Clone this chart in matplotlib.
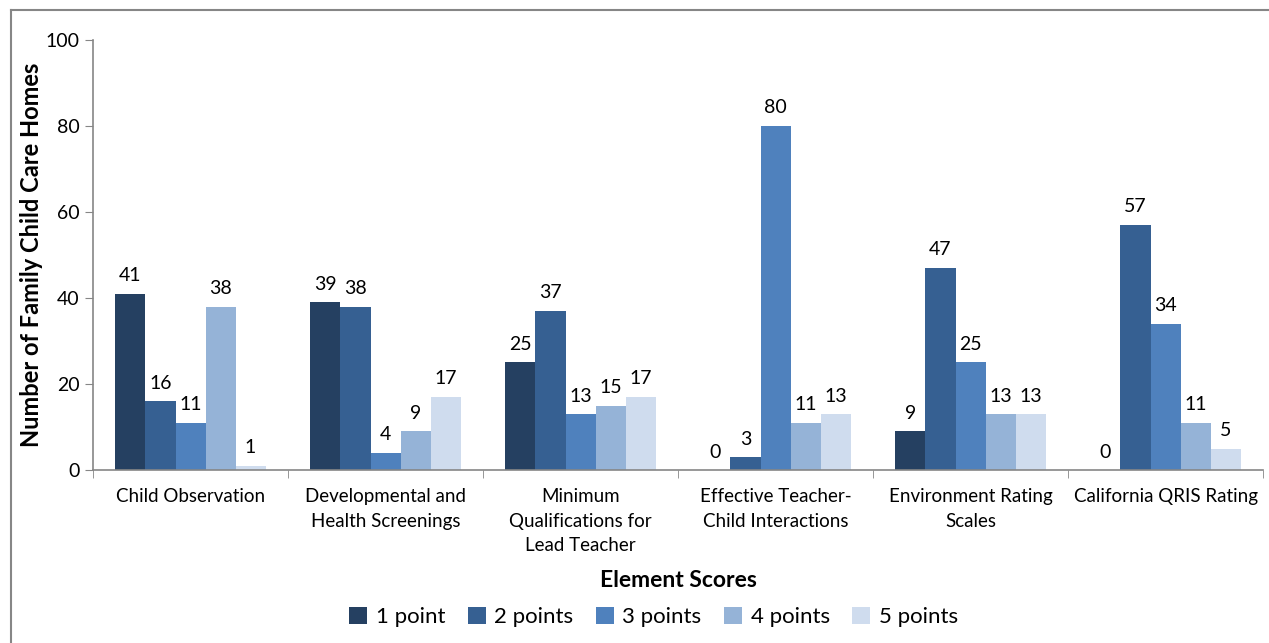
import matplotlib.pyplot as plt
import numpy as np
from matplotlib.lines import Line2D

plt.rcParams["font.family"] = ["Lato", "DejaVu Sans"]

categories = [
    "Child Observation",
    "Developmental and\nHealth Screenings",
    "Minimum\nQualifications for\nLead Teacher",
    "Effective Teacher-\nChild Interactions",
    "Environment Rating\nScales",
    "California QRIS Rating",
]
series_names = ["1 point", "2 points", "3 points", "4 points", "5 points"]
one_point = [41, 39, 25, 0, 9, 0]
two_points = [16, 38, 37, 3, 47, 57]
three_points = [11, 4, 13, 80, 25, 34]
four_points = [38, 9, 15, 11, 13, 11]
five_points = [1, 17, 17, 13, 13, 5]
colors = ["#254061", "#366092", "#4F81BD", "#95B3D7", "#CFDCEE"]

series = [one_point, two_points, three_points, four_points, five_points]

fig = plt.figure(figsize=(12.69, 6.43), dpi=100)
ax = fig.add_axes([0.0733, 0.269, 0.922, 0.669])

x = np.arange(len(categories))
w = 0.154
for i, (vals, name, c) in enumerate(zip(series, series_names, colors)):
    pos = x + (i - 2) * w
    ax.bar(pos, vals, width=w, color=c, label=name)
    for p, v in zip(pos, vals):
        ax.text(p, v + 2.2, str(v), ha="center", va="bottom", fontsize=14, color="black")

ax.set_xlim(-0.5, len(categories) - 0.5)
ax.set_ylim(0, 100)
ax.set_yticks(range(0, 101, 20))
ax.set_xticks(x)
ax.set_xticklabels(categories, fontsize=13.5, linespacing=1.55)
ax.set_xticks(np.arange(-0.5, len(categories)), minor=True)
ax.tick_params(axis="x", which="major", length=0, pad=13)
ax.tick_params(axis="x", which="minor", length=6, color="#868686")
ax.tick_params(axis="y", length=6, color="#868686", labelsize=14)
for s in ["top", "right"]:
    ax.spines[s].set_visible(False)
for s in ["left", "bottom"]:
    ax.spines[s].set_color("#868686")
    ax.spines[s].set_linewidth(1.2)

ax.set_ylabel("Number of Family Child Care Homes", fontsize=17, fontweight="bold")
ax.yaxis.set_label_coords(-0.043, 0.5)
ax.set_xlabel("Element Scores", fontsize=16.5, fontweight="bold", labelpad=11)

fig.legend(loc="center", bbox_to_anchor=(0.515, 0.040), ncol=5, frameon=False,
           fontsize=16, handlelength=0.8, handleheight=0.8, handletextpad=0.4,
           columnspacing=1.0)

# chart frame (only left and top edges visible)
fig.add_artist(Line2D([11 / 1269, 11 / 1269], [0, 1 - 10 / 643], color="#868686", lw=1.5))
fig.add_artist(Line2D([11 / 1269, 1], [1 - 10 / 643, 1 - 10 / 643], color="#868686", lw=1.5))

fig.savefig("out.png", dpi=100)
